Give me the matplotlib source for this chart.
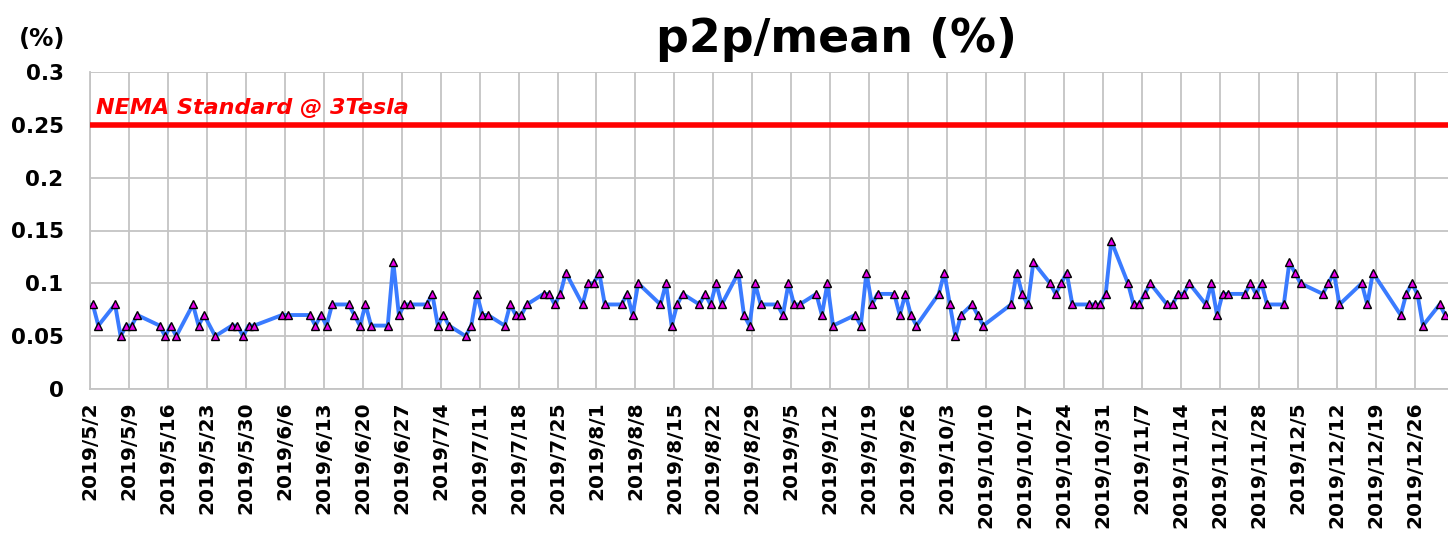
import numpy as np
import pandas as pd
import matplotlib
matplotlib.use("Agg")
import matplotlib.pyplot as plt

# measurement days (2019) and p2p/mean values (%)
days = ["5/2", "5/3", "5/6", "5/7", "5/8", "5/9", "5/10", "5/14", "5/15", "5/16",
        "5/17", "5/20", "5/21", "5/22", "5/24", "5/27", "5/28", "5/29", "5/30", "5/31",
        "6/5", "6/6", "6/10", "6/11", "6/12", "6/13", "6/14", "6/17", "6/18", "6/19",
        "6/20", "6/21", "6/24", "6/25", "6/26", "6/27", "6/28", "7/1", "7/2", "7/3",
        "7/4", "7/5", "7/8", "7/9", "7/10", "7/11", "7/12", "7/15", "7/16", "7/17",
        "7/18", "7/19", "7/22", "7/23", "7/24", "7/25", "7/26", "7/29", "7/30", "7/31",
        "8/1", "8/2", "8/5", "8/6", "8/7", "8/8", "8/12", "8/13", "8/14", "8/15",
        "8/16", "8/19", "8/20", "8/21", "8/22", "8/23", "8/26", "8/27", "8/28", "8/29",
        "8/30", "9/2", "9/3", "9/4", "9/5", "9/6", "9/9", "9/10", "9/11", "9/12",
        "9/16", "9/17", "9/18", "9/19", "9/20", "9/23", "9/24", "9/25", "9/26", "9/27",
        "10/1", "10/2", "10/3", "10/4", "10/5", "10/7", "10/8", "10/9", "10/14", "10/15",
        "10/16", "10/17", "10/18", "10/21", "10/22", "10/23", "10/24", "10/25", "10/28", "10/29",
        "10/30", "10/31", "11/1", "11/4", "11/5", "11/6", "11/7", "11/8", "11/11", "11/12",
        "11/13", "11/14", "11/15", "11/18", "11/19", "11/20", "11/21", "11/22", "11/25", "11/26",
        "11/27", "11/28", "11/29", "12/2", "12/3", "12/4", "12/5", "12/9", "12/10", "12/11",
        "12/12", "12/16", "12/17", "12/18", "12/23", "12/24", "12/25", "12/26", "12/27", "12/30",
        "12/31"]
values = [0.08, 0.06, 0.08, 0.05, 0.06, 0.06, 0.07, 0.06, 0.05, 0.06,
          0.05, 0.08, 0.06, 0.07, 0.05, 0.06, 0.06, 0.05, 0.06, 0.06,
          0.07, 0.07, 0.07, 0.06, 0.07, 0.06, 0.08, 0.08, 0.07, 0.06,
          0.08, 0.06, 0.06, 0.12, 0.07, 0.08, 0.08, 0.08, 0.09, 0.06,
          0.07, 0.06, 0.05, 0.06, 0.09, 0.07, 0.07, 0.06, 0.08, 0.07,
          0.07, 0.08, 0.09, 0.09, 0.08, 0.09, 0.11, 0.08, 0.10, 0.10,
          0.11, 0.08, 0.08, 0.09, 0.07, 0.10, 0.08, 0.10, 0.06, 0.08,
          0.09, 0.08, 0.09, 0.08, 0.10, 0.08, 0.11, 0.07, 0.06, 0.10,
          0.08, 0.08, 0.07, 0.10, 0.08, 0.08, 0.09, 0.07, 0.10, 0.06,
          0.07, 0.06, 0.11, 0.08, 0.09, 0.09, 0.07, 0.09, 0.07, 0.06,
          0.09, 0.11, 0.08, 0.05, 0.07, 0.08, 0.07, 0.06, 0.08, 0.11,
          0.09, 0.08, 0.12, 0.10, 0.09, 0.10, 0.11, 0.08, 0.08, 0.08,
          0.08, 0.09, 0.14, 0.10, 0.08, 0.08, 0.09, 0.10, 0.08, 0.08,
          0.09, 0.09, 0.10, 0.08, 0.10, 0.07, 0.09, 0.09, 0.09, 0.10,
          0.09, 0.10, 0.08, 0.08, 0.12, 0.11, 0.10, 0.09, 0.10, 0.11,
          0.08, 0.10, 0.08, 0.11, 0.07, 0.09, 0.10, 0.09, 0.06, 0.08,
          0.07]
nema_limit = 0.25
nema_label = "NEMA Standard @ 3Tesla"

dates = pd.to_datetime(["2019/" + d for d in days], format="%Y/%m/%d")
x = dates + pd.Timedelta(hours=12)

fig = plt.figure(figsize=(14.48, 5.38), dpi=100)
ax = fig.add_axes([90 / 1448, 1 - 389 / 538, 1 - 90 / 1448, (389 - 72) / 538])

start = pd.Timestamp("2019-05-02")
end = pd.Timestamp("2020-01-01")
ax.set_xlim(start, end)
ax.set_ylim(0, 0.3)

ticks = pd.date_range(start, "2019-12-26", freq="7D")
ax.set_xticks(ticks)
ax.set_xticklabels([f"{t.year}/{t.month}/{t.day}" for t in ticks], rotation=90,
                   fontsize=14.5, fontweight="bold")
ax.set_yticks(np.arange(0, 0.31, 0.05))
ax.set_yticklabels(["0", "0.05", "0.1", "0.15", "0.2", "0.25", "0.3"],
                   fontsize=15.5, fontweight="bold")
ax.tick_params(axis="x", length=0, pad=9)
ax.tick_params(axis="y", length=0, pad=19)
ax.grid(True, color="#c4c4c4", linewidth=1.3)
ax.set_axisbelow(True)
for s in ["top", "right"]:
    ax.spines[s].set_visible(False)
for s in ["left", "bottom"]:
    ax.spines[s].set_color("#c4c4c4")
    ax.spines[s].set_linewidth(1.3)

ax.axhline(nema_limit, color="#ff0000", linewidth=4, zorder=3)
ax.text(start + pd.Timedelta(days=1), nema_limit + 0.006, nema_label, color="#ff0000",
        fontsize=16, fontweight="bold", style="italic", va="bottom", ha="left")

ax.plot(x, values, color="#3a7bff", linewidth=2.8, zorder=4,
        marker="^", markersize=6, markerfacecolor="#e600e6",
        markeredgecolor="black", markeredgewidth=1.0)

fig.text(836 / 1448, 1 - 39 / 538, "p2p/mean (%)", fontsize=33, fontweight="bold",
         ha="center", va="center")
fig.text(42 / 1448, 1 - 39 / 538, "(%)", fontsize=17.5, fontweight="bold",
         ha="center", va="center")

fig.savefig("out.png", dpi=100)
